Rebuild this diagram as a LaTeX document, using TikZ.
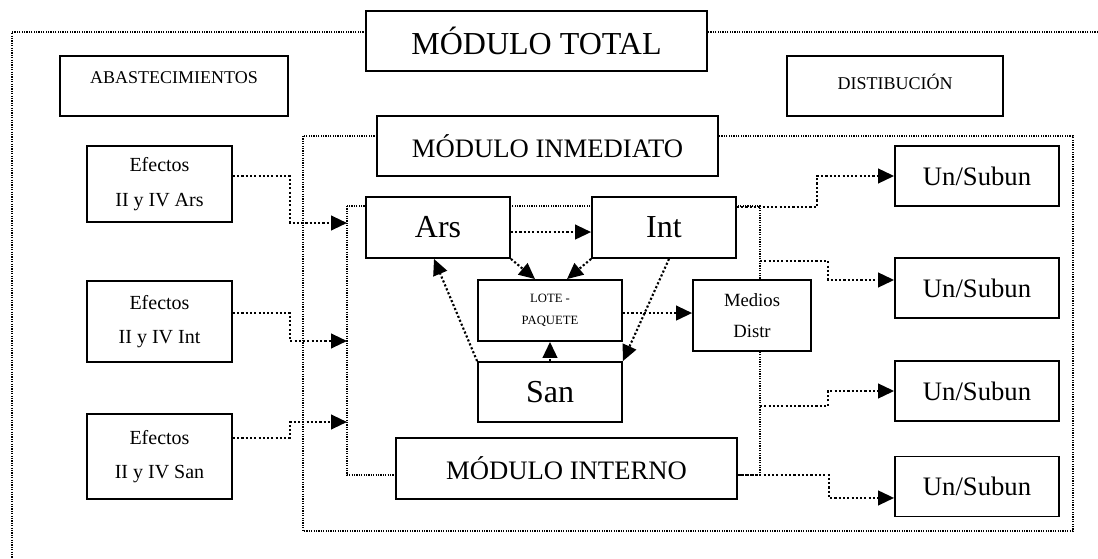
\documentclass[tikz,border=0pt]{standalone}
\usepackage{fontspec}
\setmainfont{Liberation Serif}
\usetikzlibrary{arrows.meta}

\begin{document}
\begin{tikzpicture}[x=0.75pt,y=-0.75pt,
    box/.style={draw,line width=1.4pt,fill=white,inner sep=0pt,align=center},
    frame/.style={line width=0.9pt,dash pattern=on 0.9pt off 0.9pt},
    conn/.style={line width=1.6pt,dash pattern=on 1.6pt off 1.6pt,
      -{Triangle[length=12pt,width=11pt]}}]
    \useasboundingbox (0,0) rectangle (1098,559);

    % dotted frames
    \draw[frame] (1098,32) -- (12,32) -- (12,559);
    \draw[frame] (303,136) rectangle (1073,531);
    \draw[frame] (347,206) rectangle (760,475);

    % titles
    \node[box,minimum width=255.75pt,minimum height=45pt,font=\fontsize{24}{28}\selectfont]
      (total) at (536.5,41) {MÓDULO TOTAL};
    \node[box,minimum width=171pt,minimum height=45pt,text depth=12pt,font=\fontsize{13.5}{16}\selectfont]
      (abast) at (174,86) {ABASTECIMIENTOS};
    \node[box,minimum width=162pt,minimum height=45pt,text depth=6pt,font=\fontsize{13.5}{16}\selectfont]
      (dist) at (895,86) {DISTIBUCIÓN};
    \node[box,minimum width=255.75pt,minimum height=45pt,font=\fontsize{20}{24}\selectfont]
      (inmed) at (547.5,146) {MÓDULO INMEDIATO};
    \node[box,minimum width=255.75pt,minimum height=45.75pt,font=\fontsize{20}{24}\selectfont]
      (interno) at (566.5,468.5) {MÓDULO INTERNO};

    % supplies
    \node[box,minimum width=108.75pt,minimum height=57pt,font=\fontsize{15}{26}\selectfont]
      (efA) at (159.5,184) {Efectos\\II y IV Ars};
    \node[box,minimum width=108.75pt,minimum height=60.75pt,font=\fontsize{15}{26}\selectfont]
      (efB) at (159.5,321.5) {Efectos\\II y IV Int};
    \node[box,minimum width=108.75pt,minimum height=63.75pt,font=\fontsize{15}{26}\selectfont]
      (efC) at (159.5,456.5) {Efectos\\II y IV San};

    % inner module
    \node[box,minimum width=108pt,minimum height=45.75pt,font=\fontsize{24}{28}\selectfont]
      (ars) at (438,227.5) {Ars};
    \node[box,minimum width=108pt,minimum height=45.75pt,font=\fontsize{24}{28}\selectfont]
      (int) at (664,227.5) {Int};
    \node[box,minimum width=108pt,minimum height=45.75pt,font=\fontsize{9.5}{17}\selectfont]
      (lote) at (550,310.5) {LOTE -\\PAQUETE};
    \node[box,minimum width=108pt,minimum height=45pt,font=\fontsize{24}{28}\selectfont]
      (san) at (550,392) {San};
    \node[box,minimum width=88.5pt,minimum height=53.25pt,font=\fontsize{14}{23}\selectfont]
      (medios) at (752,315.5) {Medios\\Distr};

    % distribution
    \foreach \n/\y in {1/176,2/288,3/391,4/486.5} {
        \node[box,minimum width=123pt,minimum height=45pt,font=\fontsize{20}{24}\selectfont]
          (un\n) at (977,\y) {Un/Subun};
      }

    % connectors left
    \coordinate (inA) at (347,223);
    \coordinate (inB) at (347,341);
    \coordinate (inC) at (347,422);
    \draw[conn] ([yshift=6pt]efA.east) -- ++(57,0) |- (inA);
    \draw[conn] ([yshift=6.4pt]efB.east) -- ++(57,0) |- (inB);
    \draw[conn] ([yshift=13.9pt]efC.east) -- ++(57,0) |- (inC);

    % connectors inside
    \draw[conn] ([yshift=-3.4pt]ars.east) -- ([yshift=-3.4pt]ars.east -| int.west);
    \draw[conn] (ars.south east) -- ([xshift=-11.25pt]lote.north);
    \draw[conn] (int.south west) -- ([xshift=12.75pt]lote.north);
    \draw[conn] ([xshift=3.75pt]int.south) -- (san.north east);
    \draw[conn] (san.north west) -- ([xshift=-3pt]ars.south);
    \draw[conn] (san.north) -- (lote.south);
    \draw[conn] ([yshift=-1.9pt]lote.east) -- ([yshift=-1.9pt]lote.east -| medios.west);

    % connectors right
    \coordinate (brB) at (760,261);
    \coordinate (brC) at (760,406);
    \draw[conn] ([yshift=15.4pt]int.east) -- ++(80,0) |- (un1.west);
    \draw[conn] (brB) -- ++(68,0) |- ([yshift=6pt]un2.west);
    \draw[conn] (brC) -- ++(68,0) |- (un3.west);
    \draw[conn] ([yshift=-4.9pt]interno.east) -- ++(91,0) |- ([yshift=-8.6pt]un4.west);
  \end{tikzpicture}
\end{document}
